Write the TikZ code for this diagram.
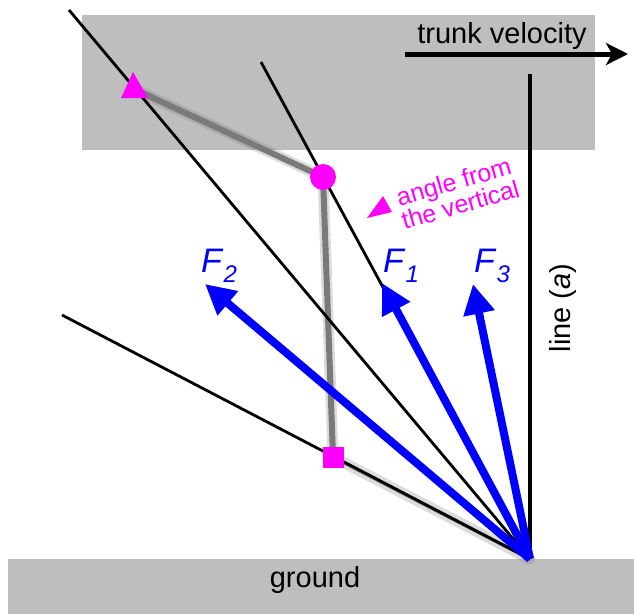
\documentclass[tikz,border=0pt]{standalone}
\usepackage{fontspec}
\setmainfont{Liberation Sans}
\usetikzlibrary{arrows.meta}

\definecolor{panelgray}{RGB}{190,190,190}
\definecolor{markmag}{RGB}{255,0,255}
\definecolor{forceblue}{RGB}{0,0,255}
\newcommand{\forcelbl}[1]{\textit{F}\raisebox{-0.32em}{\fontsize{24}{24}\selectfont\textit{#1}}}

\tikzset{
  ray/.style={draw=black,line width=2.8pt},
  force/.style={draw=forceblue,line width=8pt,-{Triangle[length=30pt,width=30pt]}},
  forcelabel/.style={text=forceblue,font=\fontsize{34}{34}\selectfont,inner sep=0pt,anchor=base west},
  bigtext/.style={font=\fontsize{29}{29}\selectfont,inner sep=0pt},
  limb soft/.style={draw=black!55,line width=11pt,opacity=.25,line join=round,line cap=round},
  limb core/.style={draw=black!52,line width=6pt,line join=round},
  marker/.style={fill=markmag,draw=none},
}

\begin{document}
\begin{tikzpicture}[x=1pt,y=-1pt]
  \useasboundingbox (0,0) rectangle (634,614);

  % Panels
  \path[fill=panelgray] (82,15) rectangle (595,150);
  \path[fill=panelgray] (8,559) rectangle (634,614);
  \node[bigtext,anchor=base] (groundlbl) at (315,587) {ground};

  % Key points
  \coordinate (foot) at (530,559);
  \coordinate (shoulder) at (134,89);
  \coordinate (hip) at (323,177);
  \coordinate (knee) at (333,457);
  \coordinate (rayA) at (69,10);
  \coordinate (rayB) at (261,62);
  \coordinate (rayC) at (62,315);
  \coordinate (vtop) at (530,74);
  \coordinate (tvstart) at (405,54);
  \coordinate (tvend) at (628,54);
  \coordinate (tipF1) at (382,283);
  \coordinate (tipF2) at (205,284);
  \coordinate (tipF3) at (473,284);

  % Blurred leg
  \path[limb soft] (shoulder) -- (hip) -- (knee);
  \path[limb core] (shoulder) -- (hip) -- (knee);
  \path[limb soft,yshift=-3pt] (knee) -- (foot);
  \path[limb core,line width=3.5pt,yshift=-2.5pt] (knee) -- (foot);

  % Rays from the foot
  \draw[ray] (foot) -- (rayA);
  \draw[ray] (foot) -- (rayB);
  \draw[ray] (foot) -- (rayC);

  % line (a) and trunk velocity
  \draw[line width=4.5pt] (foot) -- (vtop);
  \node[bigtext,rotate=90,anchor=base] (linealbl) at (570,308) {line (\textit{a})};
  \draw[line width=5pt,-{Stealth[length=22pt,width=22pt,inset=6pt]}] (tvstart) -- (tvend);
  \node[bigtext,anchor=base] (trunklbl) at (502,43) {trunk velocity};

  % Forces
  \draw[force] (foot) -- (tipF2);
  \draw[force] (foot) -- (tipF1);
  \draw[force] (foot) -- (tipF3);
  \node[forcelabel] (F2lbl) at (201,272) {\forcelbl{2}};
  \node[forcelabel] (F1lbl) at (383,272) {\forcelbl{1}};
  \node[forcelabel] (F3lbl) at (474,272) {\forcelbl{3}};

  % Joint markers
  \fill[marker] (121,98) -- (148,98) -- (133,72) -- cycle;
  \node[marker,circle,minimum size=26pt,inner sep=0pt] (hipdot) at (hip) {};
  \node[marker,minimum size=21pt,inner sep=0pt] (kneebox) at (knee) {};

  % Angle note
  \fill[marker] (367,218) -- (392,212) -- (383,196) -- cycle;
  \node[text=markmag,font=\fontsize{25}{24}\selectfont,align=center,rotate=16,inner sep=0pt] (anglelbl) at (457,193) {angle from\\the vertical};
\end{tikzpicture}
\end{document}
